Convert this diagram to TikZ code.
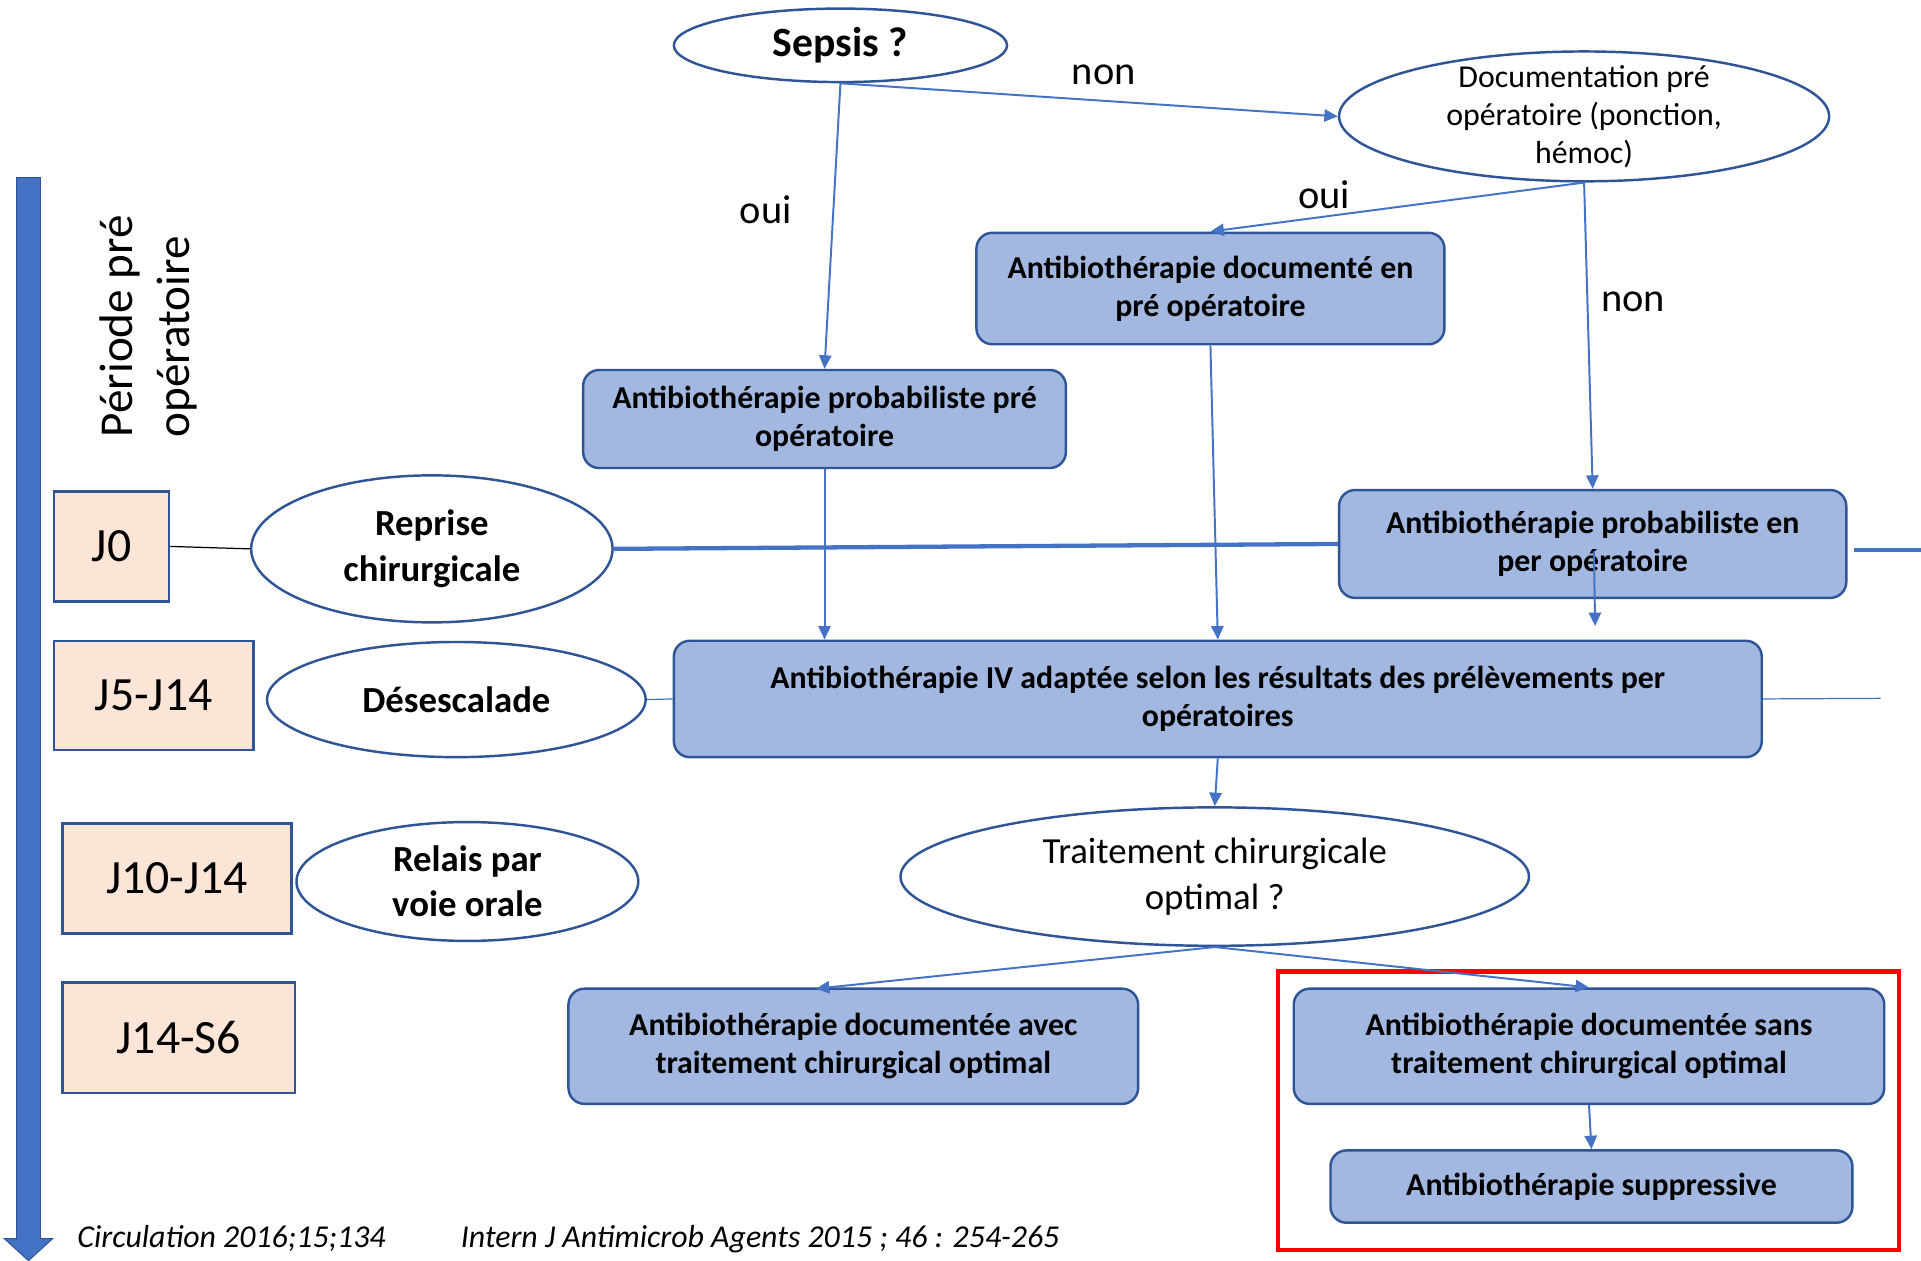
\documentclass[tikz,border=0pt]{standalone}
\usepackage{fontspec}
\setmainfont{Carlito}
\usetikzlibrary{shapes.geometric,arrows.meta,calc}
\definecolor{bfill}{HTML}{A2B8E1}
\definecolor{bline}{HTML}{2F5597}
\definecolor{arr}{HTML}{4472C4}
\definecolor{peach}{HTML}{FBE5D6}
\begin{document}
\begin{tikzpicture}[x=1pt,y=-1pt,
  rbox/.style={rectangle, rounded corners=13pt, draw=bline, fill=bfill, line width=2pt, align=center, font=\bfseries\fontsize{26}{31}\selectfont, inner sep=0pt},
  ell/.style={ellipse, draw=bline, fill=white, line width=2pt, align=center, inner sep=0pt},
  daybox/.style={rectangle, draw=bline, fill=peach, line width=2pt, font=\fontsize{39}{47}\selectfont, inner sep=0pt},
  conn/.style={draw=arr, line width=1.6pt, -{Triangle[length=11pt,width=10pt]}},
  lbl/.style={font=\fontsize{33}{40}\selectfont, inner sep=0pt},
  cite/.style={font=\itshape\fontsize{26}{31}\selectfont, inner sep=0pt}]
\useasboundingbox (0,0) rectangle (1568,1029);
\fill[white] (0,0) rectangle (1568,1029);

% timeline arrow
\filldraw[fill=arr, draw=bline, line width=0.8pt] (13.5,145) -- (33,145) -- (33,1011) -- (43,1011) -- (23.25,1029) -- (3.5,1011) -- (13.5,1011) -- cycle;
\node[rotate=90, anchor=north west, align=left, font=\fontsize{38.5}{47}\selectfont, inner sep=0pt] (periode) at (81,357) {Période pré\\opératoire};

% day boxes
\node[daybox, minimum width=94pt, minimum height=90pt] (j0) at (91,446) {J0};
\node[daybox, minimum width=163pt, minimum height=89pt] (j5) at (125.5,567.5) {J5-J14};
\node[daybox, minimum width=187pt, minimum height=90pt] (j10) at (144.5,717) {J10-J14};
\node[daybox, minimum width=190pt, minimum height=90pt] (j14) at (146,847) {J14-S6};

% left ellipses
\node[ell, minimum width=295pt, minimum height=120pt, font=\bfseries\fontsize{30}{37}\selectfont] (reprise) at (352.5,448) {Reprise\\chirurgicale};
\node[ell, minimum width=309pt, minimum height=94pt, font=\bfseries\fontsize{30}{37}\selectfont] (desc) at (372.5,571) {Désescalade};
\node[ell, minimum width=279pt, minimum height=97pt, inner ysep=-3pt, font=\bfseries\fontsize{30}{37}\selectfont] (relais) at (381.5,719.5) {Relais par\\voie orale};

% top decision ellipses
\node[ell, minimum width=272pt, minimum height=60pt, font=\bfseries\fontsize{34}{40}\selectfont] (sepsis) at (686,37) {Sepsis ?};
\node[ell, minimum width=400pt, minimum height=106pt, inner ysep=-9pt, font=\fontsize{26}{31}\selectfont] (doc) at (1293,95) {Documentation pré\\opératoire (ponction,\\hémoc)};

% boxes
\node[rbox, minimum width=382pt, minimum height=91pt] (bdoc) at (988,235.5) {Antibiothérapie documenté en\\pré opératoire};
\node[rbox, minimum width=394pt, minimum height=80pt] (pre) at (673,342) {Antibiothérapie probabiliste pré\\opératoire};
\node[rbox, minimum width=414pt, minimum height=88pt] (per) at (1300,444) {Antibiothérapie probabiliste en\\per opératoire};
\node[rbox, minimum width=888pt, minimum height=95pt] (iv) at (994,570.5) {Antibiothérapie IV adaptée selon les résultats des prélèvements per\\opératoires};
\node[ell, minimum width=513pt, minimum height=113pt, font=\fontsize{30}{37}\selectfont] (trait) at (991.5,715.5) {Traitement chirurgicale\\optimal ?};
\node[rbox, minimum width=465pt, minimum height=94pt] (avec) at (696.5,854) {Antibiothérapie documentée avec\\traitement chirurgical optimal};
\node[rbox, minimum width=482pt, minimum height=94pt] (sans) at (1297,854) {Antibiothérapie documentée sans\\traitement chirurgical optimal};
\node[rbox, minimum width=426pt, minimum height=59pt] (supp) at (1299,968.5) {Antibiothérapie suppressive};

% red frame
\draw[red, line width=3.5pt] (1043,793) rectangle (1550,1020);

% labels
\node[lbl] (lnon1) at (901,61) {non};
\node[lbl] (loui1) at (625,171) {oui};
\node[lbl] (loui2) at (1081,159) {oui};
\node[lbl] (lnon2) at (1333,246) {non};

% plain lines
\draw[black, line width=1pt] (j0.east) -- (reprise.west);
\draw[arr, line width=3.5pt] (reprise.east) -- (per.west);
\coordinate (rstubA) at (1513,449);
\coordinate (rstubB) at (1568,449);
\draw[arr, line width=3.5pt] (rstubA) -- (rstubB);
\draw[arr, line width=1pt] (desc.east) -- (iv.west);
\coordinate (ivstub) at (1535,570);
\draw[arr, line width=1pt] (iv.east) -- (ivstub);

% connectors
\draw[conn] (sepsis.south) -- (pre.north);
\draw[conn] (sepsis.south) -- (doc.west);
\draw[conn] (doc.south) -- (bdoc.north);
\draw[conn] (doc.south) -- (per.north);
\draw[conn] (pre.south) -- (pre.south |- iv.north);
\draw[conn] (bdoc.south) -- (iv.north);
\coordinate (perA) at (1301,450);
\coordinate (perB) at (1302,511);
\draw[conn] (perA) -- (perB);
\draw[conn] (iv.south) -- (trait.north);
\coordinate (avecT) at (666,807);
\draw[conn] (trait.south) -- (avecT);
\draw[conn] (trait.south) -- (sans.north);
\draw[conn] (sans.south) -- (supp.north);

% citations
\node[cite, anchor=base west] (cit1) at (63,1018.5) {Circulation 2016;15;134};
\node[cite, anchor=base west] (cit2) at (376,1018.5) {Intern J Antimicrob Agents 2015 ; 46 : 254-265};
\end{tikzpicture}
\end{document}
